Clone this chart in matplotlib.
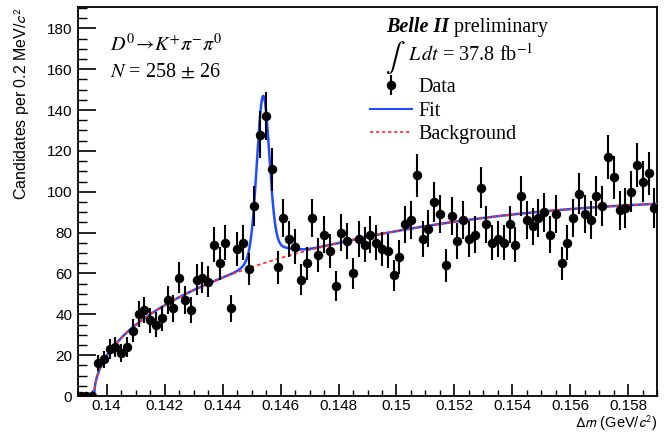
import numpy as np
import matplotlib
matplotlib.use("Agg")
import matplotlib.pyplot as plt
from matplotlib.lines import Line2D
from matplotlib.ticker import MultipleLocator, FormatStrFormatter

# ---------------- data ----------------
DM_LOW = 0.139
BIN_WIDTH = 0.0002
counts = [0, 0, 0, 16, 18, 23, 24, 21, 24, 32,
          40, 42, 37, 35, 38, 47, 43, 58, 47, 42,
          57, 58, 56, 74, 65, 75, 43, 72, 75, 62,
          93, 128, 137, 111, 63, 87, 77, 73, 57, 65,
          87, 69, 79, 71, 54, 80, 76, 60, 77, 74,
          79, 75, 72, 71, 59, 68, 84, 86, 108, 77,
          82, 95, 89, 64, 88, 76, 86, 77, 79, 102,
          84, 75, 77, 75, 84, 74, 98, 86, 83, 87,
          90, 79, 89, 65, 75, 87, 99, 89, 86, 98,
          93, 117, 107, 91, 92, 100, 113, 105, 109, 92]

# fit model parameters
M_PI = 0.13957
BKG_A = 975.0
BKG_B = -1405.0
BKG_D = -38450.0
SIG_MEAN = 0.14540
SIG_AMP = 74.0
SIG_SIGMA = 0.00021
TAIL_AMP = 8.0
TAIL_SIG_L = 0.0004
TAIL_SIG_R = 0.0007

counts = np.array(counts, dtype=float)
centers = DM_LOW + BIN_WIDTH * (np.arange(len(counts)) + 0.5)
errors = np.sqrt(counts)


def background(x):
    u = np.clip(x - M_PI, 0, None)
    return BKG_A * np.sqrt(u) + BKG_B * u + BKG_D * u ** 2


def signal(x):
    core = SIG_AMP * np.exp(-0.5 * ((x - SIG_MEAN) / SIG_SIGMA) ** 2)
    s = np.where(x < SIG_MEAN, TAIL_SIG_L, TAIL_SIG_R)
    tail = TAIL_AMP * np.exp(-0.5 * ((x - SIG_MEAN) / s) ** 2)
    return core + tail


BLUE = "#1f4cff"
RED = "#ff3030"

# ---------------- figure ----------------
W, H = 666, 432
fig = plt.figure(figsize=(W / 100, H / 100), dpi=100)
ax_l, ax_r, ax_t, ax_b = 77.7, 657.3, 7.3, 396.0
ax = fig.add_axes([ax_l / W, 1 - ax_b / H, (ax_r - ax_l) / W, (ax_b - ax_t) / H])

xs = np.linspace(M_PI, 0.159, 3000)
bkg = background(xs)
fit = bkg + signal(xs)

ax.plot(xs, fit, color=BLUE, lw=1.8, zorder=3)
ax.plot(xs, bkg, color=RED, lw=1.3, ls=(0, (2, 1.6)), zorder=4)

ax.errorbar(centers, counts, yerr=np.where(counts > 0, errors, 0), fmt="o",
            color="black", ms=5.8, elinewidth=1.5, capsize=0, zorder=5)

ax.set_xlim(0.139, 0.159)
ax.set_ylim(0, 190.3)

ax.xaxis.set_major_locator(MultipleLocator(0.002))
ax.xaxis.set_minor_locator(MultipleLocator(0.0005))
ax.yaxis.set_major_locator(MultipleLocator(20))
ax.yaxis.set_minor_locator(MultipleLocator(5))
ax.xaxis.set_major_formatter(FormatStrFormatter("%g"))
ax.yaxis.set_major_formatter(FormatStrFormatter("%g"))

ax.tick_params(axis="x", which="major", direction="in", length=9, width=1.2,
               top=False, pad=2.0)
ax.tick_params(axis="x", which="minor", direction="in", length=4.5, width=1.0, top=False)
ax.tick_params(axis="y", which="major", direction="in", length=13, width=1.2,
               right=False, pad=4)
ax.tick_params(axis="y", which="minor", direction="in", length=6.5, width=1.0, right=False)
for lab in ax.get_xticklabels() + ax.get_yticklabels():
    lab.set_fontfamily("Liberation Sans")
    lab.set_fontsize(11.0)
for sp in ax.spines.values():
    sp.set_linewidth(1.3)

fig.text(0.033, 1 - ax_t / H, r"Candidates per 0.2 MeV/$c^2$", rotation=90,
         ha="center", va="top", family="Liberation Sans", fontsize=11.5,
         math_fontfamily="stixsans")
fig.text(ax_r / W, 1 - 428 / H, r"$\Delta m$ (GeV/$c^2$)", ha="right", va="baseline",
         family="Liberation Sans", fontsize=10.5, math_fontfamily="stixsans")

serif = "Liberation Serif"
ax.text(0.0557, 0.903, r"$D^0\!\rightarrow\!K^{+}\pi^{-}\pi^{0}$", transform=ax.transAxes,
        ha="left", va="center", fontsize=14.5, math_fontfamily="stix", family=serif)
ax.text(0.0557, 0.834, r"$N$ = 258 $\pm$ 26", transform=ax.transAxes,
        ha="left", va="center", fontsize=14.5, math_fontfamily="stix", family=serif)

t1 = ax.text(0.532, 0.949, "Belle II", transform=ax.transAxes, ha="left",
             va="center", fontsize=14.5, family=serif, weight="bold", style="italic")
ax.annotate(" preliminary", xy=(1, 0), xycoords=t1, ha="left", va="bottom",
            fontsize=14.5, family=serif)
t_int = ax.text(0.530, 0.872, r"$\int$", transform=ax.transAxes,
                ha="left", va="center", fontsize=21, math_fontfamily="stix")
ax.annotate(r"$L\,dt$ = 37.8 fb$^{-1}$", xy=(1, 0.5), xycoords=t_int,
            xytext=(1.5, 2), textcoords="offset points", ha="left", va="center",
            fontsize=14.5, math_fontfamily="stix", family=serif)

h_data = ax.errorbar([], [], yerr=[], fmt="o", color="black", ms=5.8,
                     elinewidth=1.5, capsize=0)
h_fit = Line2D([], [], color=BLUE, lw=1.5)
h_bkg = Line2D([], [], color=RED, lw=1.2, ls=(0, (2, 1.6)))
leg = ax.legend([h_data, h_fit, h_bkg], ["Data", "Fit", "Background"],
                loc="upper left", bbox_to_anchor=(0.504, 0.818), frameon=False,
                prop={"family": serif, "size": 14.5}, handlelength=2.1,
                handletextpad=0.3, labelspacing=0.22, borderpad=0, borderaxespad=0)

fig.savefig("out.png", dpi=100)
